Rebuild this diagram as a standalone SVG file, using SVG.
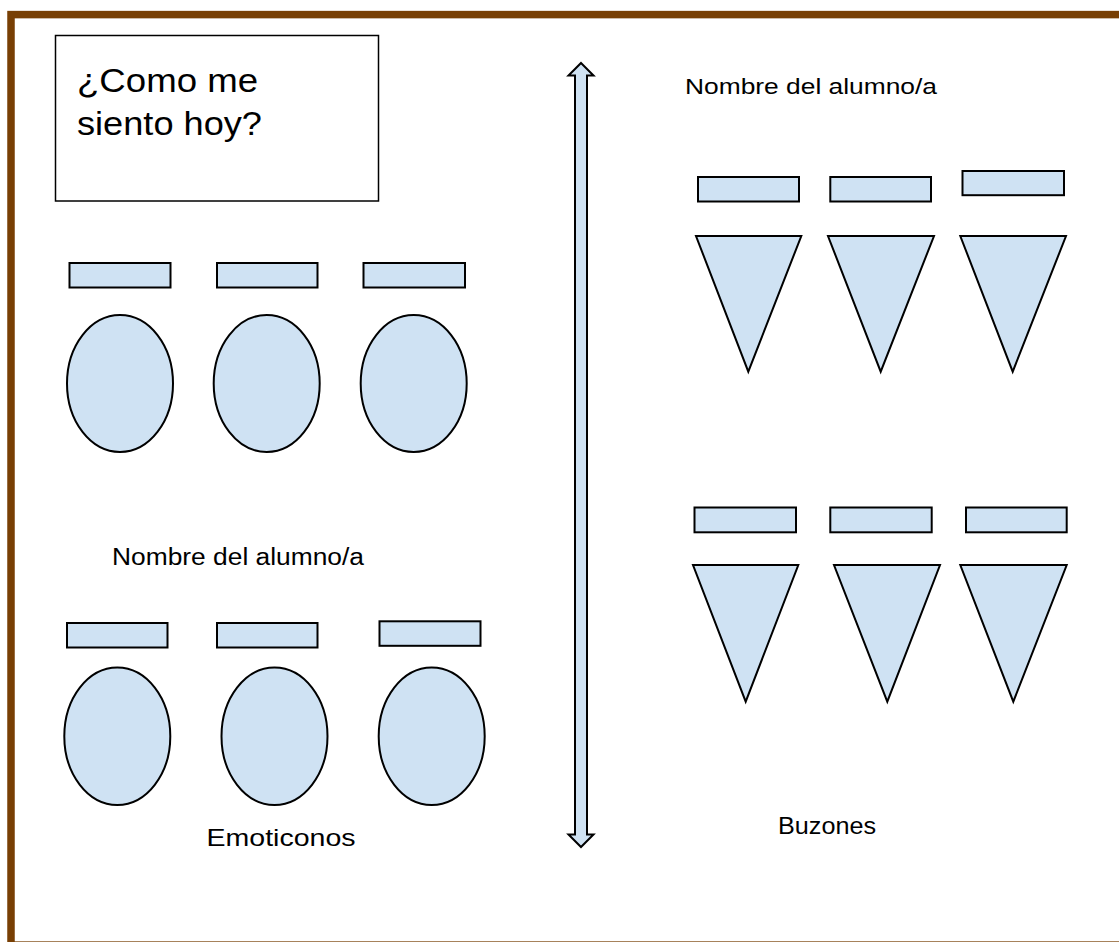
<svg xmlns="http://www.w3.org/2000/svg" width="1119" height="942" viewBox="0 0 1119 942">
<style>
.s{fill:#cfe2f3;stroke:#000;stroke-width:2;stroke-linejoin:miter}
.t{font-family:"Liberation Sans",Arial,sans-serif;fill:#000}
</style>
<rect width="1119" height="942" fill="#fff"/>
<rect id="frame" x="11" y="14.6" width="1200" height="930.5" fill="none" stroke="#783f04" stroke-width="7.5"/>
<g id="title">
<rect x="55.5" y="35.5" width="323" height="165.5" fill="#fff" stroke="#000" stroke-width="1.5"/>
<text class="t" x="77" y="92" font-size="33" textLength="181" lengthAdjust="spacingAndGlyphs">¿Como me</text>
<text class="t" x="77" y="135" font-size="33" textLength="185" lengthAdjust="spacingAndGlyphs">siento hoy?</text>
</g>
<g id="connectors">
<polygon class="s" points="581,63 593.5,75.5 587,75.5 587,834.5 593.5,834.5 581,847 568.5,834.5 575,834.5 575,75.5 568.5,75.5"/>
</g>
<g id="emo-top">
<rect class="s" x="69.5" y="263" width="101" height="24.5"/>
<rect class="s" x="217" y="263" width="100.5" height="24.5"/>
<rect class="s" x="363.5" y="263" width="101.5" height="24.5"/>
<ellipse class="s" cx="120" cy="383.5" rx="53" ry="68.5"/>
<ellipse class="s" cx="266.7" cy="383.5" rx="53" ry="68.5"/>
<ellipse class="s" cx="413.7" cy="383.5" rx="53" ry="68.5"/>
</g>
<g id="label-left">
<text class="t" x="112" y="564.5" font-size="23" textLength="252" lengthAdjust="spacingAndGlyphs">Nombre del alumno/a</text>
</g>
<g id="emo-bottom">
<rect class="s" x="67" y="623" width="100.5" height="24.5"/>
<rect class="s" x="217" y="623" width="100.5" height="24.5"/>
<rect class="s" x="379.5" y="621.3" width="101" height="24.5"/>
<ellipse class="s" cx="117.3" cy="736.2" rx="53" ry="68.7"/>
<ellipse class="s" cx="274.5" cy="736.2" rx="53" ry="68.7"/>
<ellipse class="s" cx="431.7" cy="736.2" rx="53" ry="68.7"/>
</g>
<g id="label-right">
<text class="t" x="685" y="94.3" font-size="22" textLength="252" lengthAdjust="spacingAndGlyphs">Nombre del alumno/a</text>
</g>
<g id="buz-top">
<rect class="s" x="698" y="177" width="101" height="24.5"/>
<rect class="s" x="830.3" y="177" width="100.7" height="24.5"/>
<rect class="s" x="962.5" y="171" width="101.5" height="24.2"/>
<polygon class="s" points="696,236 801.3,236 748.3,371.7"/>
<polygon class="s" points="828,236 934,236 880.7,371.7"/>
<polygon class="s" points="960.3,236 1066,236 1012.7,371.7"/>
</g>
<g id="buz-bottom">
<rect class="s" x="694.5" y="507.5" width="101.5" height="24.8"/>
<rect class="s" x="830.3" y="507.5" width="101.4" height="24.8"/>
<rect class="s" x="966" y="507.5" width="100.7" height="24.8"/>
<polygon class="s" points="693,565 798.3,565 745.7,701.7"/>
<polygon class="s" points="834,565 940,565 887.3,701.7"/>
<polygon class="s" points="960.3,565 1066.7,565 1013.3,701.7"/>
</g>
<g id="captions">
<text class="t" x="206.5" y="846" font-size="24" textLength="149" lengthAdjust="spacingAndGlyphs">Emoticonos</text>
<text class="t" x="778" y="834" font-size="24" textLength="98" lengthAdjust="spacingAndGlyphs">Buzones</text>
</g>
</svg>
